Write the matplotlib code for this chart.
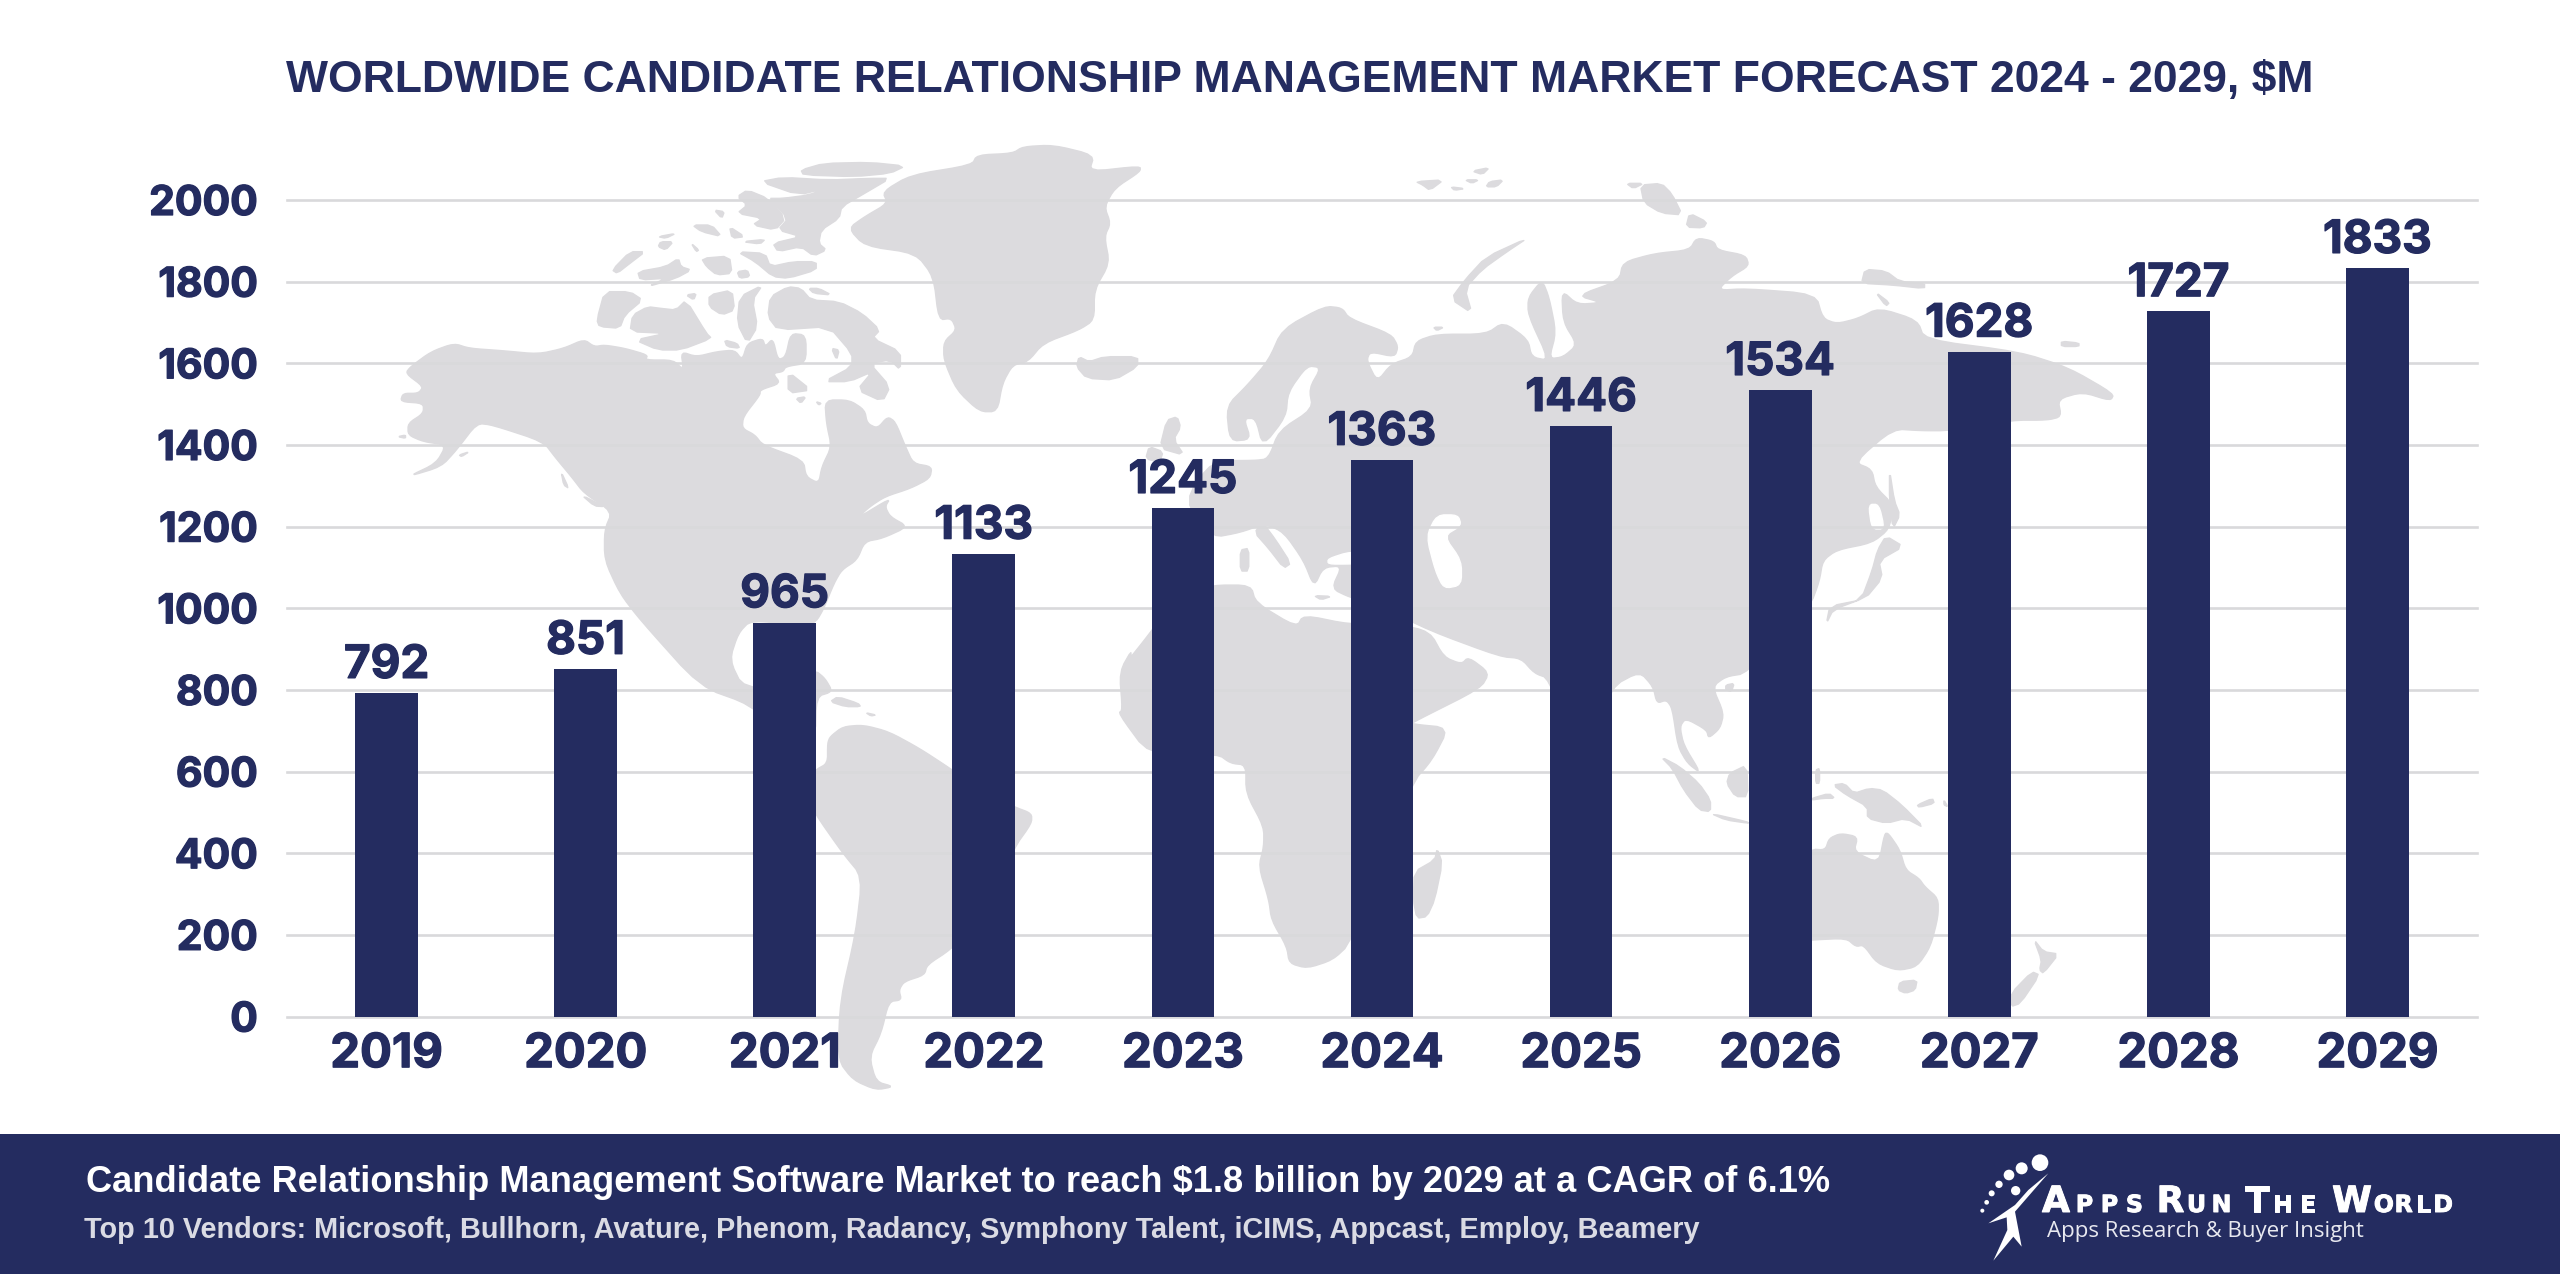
import matplotlib
matplotlib.use("Agg")
import matplotlib.pyplot as plt
import matplotlib.patheffects as pe
from matplotlib.patches import Polygon, Circle, Rectangle

years = ["2019", "2020", "2021", "2022", "2023", "2024", "2025", "2026", "2027", "2028", "2029"]
market = [792, 851, 965, 1133, 1245, 1363, 1446, 1534, 1628, 1727, 1833]
y_ticks = [0, 200, 400, 600, 800, 1000, 1200, 1400, 1600, 1800, 2000]

title = "WORLDWIDE CANDIDATE RELATIONSHIP MANAGEMENT MARKET FORECAST 2024 - 2029, $M"
headline = "Candidate Relationship Management Software Market to reach $1.8 billion by 2029 at a CAGR of 6.1%"
vendors = "Top 10 Vendors: Microsoft, Bullhorn, Avature, Phenom, Radancy, Symphony Talent, iCIMS, Appcast, Employ, Beamery"

NAVY = "#242C60"
LAND = "#DCDBDE"
GRID = "#D9D9DB"
W, H = 2560, 1274
NUM_FONT = ["Inter", "DejaVu Sans"]
TEXT_FONT = ["Liberation Sans"]
HEAVY = [pe.withStroke(linewidth=0.9, foreground=NAVY)]


def crop_a(pts):
    return [(380 + x / 1.96, 130 + y / 3) for x, y in pts]

def crop_b(pts):
    return [(1100 + x / 1.425, 150 + y / 2.85) for x, y in pts]

def crop_c(pts):
    return [(700 + x / 1.96, 600 + y / 3) for x, y in pts]

def crop_d(pts):
    return [(1500 + x / 2.613, 650 + y / 3) for x, y in pts]


# corner cutting, only to take the hard edges off the traced coastlines
def soften(pts, rounds=2):
    for _ in range(rounds):
        out = []
        for i, p in enumerate(pts):
            q = pts[(i + 1) % len(pts)]
            out.append((0.8 * p[0] + 0.2 * q[0], 0.8 * p[1] + 0.2 * q[1]))
            out.append((0.2 * p[0] + 0.8 * q[0], 0.2 * p[1] + 0.8 * q[1]))
        pts = out
    return pts


north_america = crop_a([
    (60, 710), (100, 665), (145, 640), (175, 655), (240, 662), (310, 672), (360, 655), (400, 628), (420, 650),
    (440, 645), (480, 655), (525, 675), (520, 690), (575, 690), (595, 720), (590, 665), (620, 680), (660, 665),
    (695, 660), (710, 690), (720, 640), (750, 625), (755, 650), (770, 625), (780, 690), (795, 680), (805, 610),
    (835, 615), (835, 700), (795, 710), (790, 725), (770, 730), (785, 760), (745, 780), (745, 795), (712, 860),
    (710, 895), (735, 915), (750, 945), (830, 990), (835, 1040), (860, 1060), (866, 1010), (885, 950), (875, 880),
    (872, 810), (920, 810), (950, 840), (955, 880), (975, 895), (995, 860), (1010, 875), (1030, 950), (1045, 1000),
    (1082, 1010), (1078, 1045), (1040, 1075), (990, 1100), (960, 1130), (935, 1165), (1000, 1105), (990, 1130),
    (1000, 1160), (1035, 1190), (985, 1225), (950, 1235), (935, 1290), (905, 1320), (890, 1360), (870, 1435),
    (855, 1475), (830, 1490),
]) + crop_c([
    (100, 60), (75, 100), (58, 180), (85, 265), (225, 270), (225, 210), (245, 235), (260, 275), (228, 290), (226, 420),
    (150, 400), (100, 315), (0, 260),
]) + crop_a([
    (510, 1470), (470, 1390), (440, 1290), (440, 1200), (455, 1145), (400, 1090), (375, 1040), (345, 985), (320, 935),
    (220, 885), (190, 880), (150, 960), (120, 1010), (55, 1040), (110, 1000), (130, 945), (85, 935), (55, 915),
    (55, 880), (85, 850), (85, 820), (40, 815), (45, 790), (75, 790), (85, 770), (50, 730),
])

south_america = crop_c([
    (255, 410), (280, 380), (320, 375), (370, 395), (430, 445), (490, 505), (550, 570), (615, 620), (650, 640),
    (650, 670), (615, 745), (560, 950), (490, 1050), (445, 1095), (440, 1125), (400, 1145), (390, 1170), (395, 1200),
    (370, 1205), (355, 1300), (332, 1370), (345, 1445), (380, 1460), (345, 1470), (300, 1440), (270, 1380), (275, 1200),
    (305, 1000), (318, 830), (280, 760), (225, 640), (200, 560), (226, 510), (250, 490), (250, 430),
])

africa = crop_b([
    (30, 1560), (30, 1480), (70, 1380), (110, 1270), (160, 1240), (215, 1240), (222, 1290), (280, 1360), (290, 1325),
    (356, 1352), (420, 1350), (470, 1372), (490, 1445), (515, 1465), (525, 1445), (555, 1490),
]) + crop_c([
    (1530, 265), (1400, 365), (1395, 372), (1468, 383), (1435, 480), (1395, 550), (1275, 1030), (1240, 1080),
    (1190, 1105), (1155, 1090), (1150, 1040), (1120, 960), (1115, 900), (1095, 800), (1105, 740), (1105, 680),
    (1070, 580), (1070, 495), (1040, 490), (1015, 462), (880, 465), (820, 340), (828, 330), (822, 215), (850, 140),
])

eurasia = crop_b([
    (320, 445), (345, 450), (355, 480), (415, 525), (425, 560), (420, 590), (385, 575), (380, 600), (395, 660),
    (415, 610), (445, 590), (450, 545), (480, 525), (550, 525), (575, 490), (610, 540), (615, 590), (640, 600),
    (610, 470), (610, 420), (630, 370), (640, 420), (650, 520), (640, 595), (660, 590), (680, 555), (660, 490),
    (658, 400), (680, 440), (715, 435), (680, 415), (740, 372), (745, 320), (790, 295), (840, 285), (850, 250),
    (875, 260), (880, 285), (920, 300), (925, 330), (900, 360), (880, 400), (920, 395), (1020, 410), (1030, 480),
    (1050, 495), (1080, 480), (1110, 450), (1165, 485), (1175, 540), (1310, 575), (1380, 620), (1445, 695),
    (1440, 715), (1400, 690), (1365, 710), (1370, 760), (1350, 770), (1300, 770), (1210, 800), (1170, 800), (1130, 795),
    (1075, 890), (1100, 910), (1105, 960), (1130, 1010), (1125, 1080), (1100, 1120), (1050, 1140), (1030, 1170),
    (1025, 1230), (1012, 1300),
]) + crop_d([
    (645, 70), (590, 80), (555, 110), (585, 190), (575, 235), (545, 265), (540, 240), (485, 205), (470, 230), (480, 285),
    (525, 370), (490, 340), (465, 290), (450, 175), (435, 150), (410, 160), (400, 110), (365, 65), (292, 110),
    (210, 330), (127, 85), (90, 70), (55, 25), (0, 20),
]) + crop_b([
    (470, 1370), (400, 1300), (356, 1275), (330, 1250), (345, 1185), (318, 1190), (305, 1245), (290, 1170), (262, 1090),
    (235, 1065), (200, 1090), (160, 1105), (120, 1000), (160, 885), (220, 885), (240, 880), (255, 800), (303, 738),
    (298, 680), (315, 620), (295, 615), (268, 690), (265, 760), (232, 845), (222, 765), (205, 765), (215, 825),
    (185, 830), (180, 730), (210, 670), (240, 600), (260, 510),
])

greenland = crop_a([
    (985, 185), (1040, 135), (1160, 105), (1170, 75), (1240, 70), (1260, 50), (1320, 45), (1400, 75), (1390, 125),
    (1490, 108), (1490, 125), (1440, 175), (1420, 230), (1432, 280), (1420, 320), (1430, 400), (1400, 480), (1400, 570),
    (1370, 600), (1300, 640), (1270, 695), (1240, 705), (1220, 760), (1210, 845), (1175, 845), (1130, 780), (1105, 690),
    (1105, 635), (1130, 600), (1120, 565), (1095, 570), (1085, 440), (1050, 370), (950, 348), (918, 295), (950, 260),
    (995, 220),
])

australia = crop_d([
    (700, 700), (812, 597), (850, 600), (860, 565), (890, 550), (935, 560), (925, 605), (990, 640), (1005, 550),
    (1015, 550), (1045, 600), (1060, 660), (1095, 685), (1110, 710), (1145, 745), (1145, 800), (1125, 890), (1090, 950),
    (1040, 962), (985, 940), (950, 885), (930, 890), (905, 865), (812, 870), (700, 880),
])

arctic_islands = [crop_a(p) for p in [
    [(825, 120), (870, 100), (960, 97), (1030, 108), (1000, 130), (930, 140), (830, 135)],
    [(745, 155), (790, 142), (880, 150), (960, 145), (1000, 145), (950, 190), (905, 230), (900, 265), (865, 300),
     (860, 340), (875, 360), (850, 378), (825, 350), (780, 365), (770, 340), (825, 320), (780, 300), (800, 265),
     (760, 205), (790, 205), (840, 195), (875, 175), (820, 195)],
    [(700, 200), (720, 180), (760, 205), (795, 265), (775, 300), (730, 285), (750, 265), (700, 250), (720, 225)],
    [(655, 240), (675, 245), (670, 265)],
    [(612, 285), (650, 285), (670, 320), (630, 305)],
    [(685, 290), (715, 320), (690, 325)],
    [(710, 335), (755, 328), (745, 342)],
    [(545, 320), (580, 310), (560, 325)],
    [(550, 335), (575, 335), (560, 360), (545, 350)],
    [(610, 340), (625, 360), (620, 365)],
    [(700, 365), (755, 370), (765, 410), (810, 395), (855, 395), (855, 420), (800, 445), (770, 440), (735, 395)],
    [(455, 420), (490, 365), (520, 365), (490, 400), (465, 430)],
    [(505, 425), (560, 410), (585, 385), (590, 410), (610, 420), (580, 445), (525, 470), (560, 445), (510, 450)],
    [(630, 385), (685, 378), (690, 430), (660, 435), (640, 410)],
    [(700, 425), (720, 420), (725, 440), (705, 445)],
    [(440, 485), (490, 485), (515, 510), (480, 555), (470, 595), (430, 590), (425, 570)],
    [(495, 555), (525, 530), (550, 535), (580, 540), (600, 510), (640, 610), (650, 625), (590, 660), (545, 660),
     (500, 630), (560, 610), (490, 605)],
    [(600, 495), (620, 490), (615, 510)],
    [(645, 495), (690, 480), (695, 540), (670, 555), (645, 530)],
    [(705, 500), (750, 465), (730, 510), (740, 590), (720, 640), (700, 580)],
    [(765, 500), (800, 470), (825, 475), (845, 510), (900, 515), (945, 550), (980, 600), (965, 625), (1020, 665),
     (1020, 720), (1000, 690), (960, 700), (1000, 770), (985, 815), (935, 780), (965, 725), (920, 755), (870, 755),
     (925, 710), (925, 670), (880, 590), (780, 600), (760, 560)],
    [(840, 475), (860, 475), (885, 495), (850, 490)],
    [(885, 655), (900, 660), (895, 690)],
    [(800, 725), (845, 780), (800, 790)],
    [(815, 805), (835, 800), (825, 820)],
    [(855, 815), (865, 820), (860, 825)],
    [(675, 630), (700, 640), (705, 655), (680, 650)],
    [(35, 920), (50, 915), (50, 925)],
    [(155, 975), (175, 965), (160, 980)],
    [(355, 1025), (370, 1075), (360, 1065)],
    [(395, 1095), (440, 1130), (420, 1128)],
    [(1370, 680), (1390, 695), (1420, 680), (1485, 680), (1485, 710), (1440, 750), (1385, 745), (1365, 710)],
]]

old_world_islands = [crop_b(p) for p in [
    [(610, 250), (550, 305), (520, 370), (500, 425), (530, 465), (520, 395), (545, 340), (580, 290)],
    [(450, 90), (490, 85), (470, 115), (460, 100)],
    [(500, 105), (520, 110), (505, 115)],
    [(520, 85), (540, 85), (530, 95)],
    [(555, 90), (575, 85), (565, 105), (550, 105)],
    [(530, 60), (555, 50), (545, 70)],
    [(770, 100), (800, 95), (815, 125), (830, 185), (800, 180), (775, 150)],
    [(750, 95), (775, 95), (760, 110)],
    [(840, 180), (865, 205), (860, 222), (835, 220)],
    [(1090, 340), (1120, 345), (1140, 375), (1175, 380), (1175, 395), (1130, 385), (1085, 380)],
    [(1105, 405), (1125, 435), (1120, 445)],
    [(1370, 545), (1395, 550), (1395, 560), (1370, 560)],
    [(475, 505), (490, 505), (480, 515)],
    [(95, 770), (110, 760), (115, 790), (105, 825), (120, 870), (85, 850)],
    [(70, 845), (90, 860), (85, 890), (65, 880)],
    [(232, 1062), (250, 1110), (272, 1178), (262, 1192), (240, 1135), (220, 1090)],
    [(200, 1140), (212, 1135), (212, 1200), (200, 1200)],
    [(305, 1270), (330, 1272), (315, 1282)],
    [(1125, 910), (1132, 1000), (1140, 1040), (1130, 1080), (1125, 1000)],
    [(1120, 1100), (1145, 1130), (1110, 1170), (1115, 1220), (1090, 1280), (1040, 1300), (1035, 1350), (1045, 1310),
     (1085, 1280), (1100, 1200), (1108, 1140)],
]] + [crop_d(p) for p in [
    [(420, 320), (470, 350), (520, 400), (550, 450), (550, 485), (520, 480), (480, 420), (450, 355)],
    [(550, 490), (645, 515), (650, 520), (590, 510)],
    [(645, 345), (600, 370), (592, 400), (615, 440), (648, 440)],
    [(815, 445), (860, 430), (875, 445), (845, 445), (815, 450)],
    [(825, 360), (835, 355), (835, 400), (825, 400)],
    [(870, 405), (900, 400), (925, 430), (965, 415), (1000, 420), (1050, 465), (1110, 535), (1060, 505), (1010, 520),
     (960, 505), (960, 470), (905, 435)],
    [(1090, 465), (1130, 445), (1135, 460), (1095, 472)],
    [(1160, 450), (1170, 470), (1160, 465)],
    [(590, 105), (612, 100), (605, 125), (590, 120)],
    [(1045, 995), (1090, 990), (1085, 1020), (1060, 1030), (1040, 1020)],
    [(1395, 868), (1420, 905), (1460, 912), (1420, 970), (1410, 960), (1415, 930)],
    [(1390, 965), (1410, 975), (1360, 1060), (1335, 1070), (1335, 1030)],
]] + [crop_c(p) for p in [
    [(1445, 745), (1455, 790), (1440, 900), (1425, 950), (1405, 955), (1398, 900), (1400, 815), (1440, 780)],
    [(255, 305), (270, 290), (310, 310), (315, 320), (285, 320)],
    [(325, 338), (345, 345), (335, 348)],
]]

# inland seas are painted back in white on top of the land
inland_seas = [crop_b(p) for p in [
    [(480, 1040), (510, 1040), (515, 1070), (490, 1100), (515, 1170), (515, 1240), (490, 1250), (478, 1200), (465, 1100)],
    [(325, 1165), (356, 1145), (420, 1145), (420, 1175), (356, 1180), (325, 1180)],
    [(1095, 1010), (1110, 1010), (1118, 1080), (1100, 1080)],
]]

fig = plt.figure(figsize=(W / 100, H / 100), dpi=100, facecolor="white")

bg = fig.add_axes([0, 0, 1, 1], zorder=0)
bg.set_xlim(0, W)
bg.set_ylim(H, 0)
bg.axis("off")

for shape in [north_america, south_america, africa, eurasia, greenland, australia]:
    bg.add_patch(Polygon(soften(shape), closed=True, facecolor=LAND, edgecolor=LAND, lw=1, joinstyle="round"))
for shape in arctic_islands + old_world_islands:
    bg.add_patch(Polygon(soften(shape, 1), closed=True, facecolor=LAND, edgecolor=LAND, lw=1, joinstyle="round"))
for shape in inland_seas:
    bg.add_patch(Polygon(soften(shape), closed=True, facecolor="white", edgecolor="white", lw=1, joinstyle="round"))

# footer banner
bg.add_patch(Rectangle((0, 1134), W, H - 1134, facecolor=NAVY, edgecolor="none"))
bg.text(86, 1183, headline, color="white", fontsize=26.1, family=TEXT_FONT, fontweight="bold", va="center", ha="left")
bg.text(84, 1230, vendors, color="#DADBE4", fontsize=20.8, family=TEXT_FONT, fontweight="bold", va="center", ha="left")

# main chart
ax = fig.add_axes([287 / W, 1 - 1016.5 / H, 2190 / W, 816.5 / H], zorder=1)
ax.patch.set_visible(False)
x = range(len(years))
ax.bar(x, market, width=0.315, color=NAVY, zorder=3)
ax.set_xlim(-0.5, 10.5)
ax.set_ylim(0, 2000)
ax.set_yticks(y_ticks)
ylabels = ax.set_yticklabels([str(v) for v in y_ticks], family=NUM_FONT, fontweight="bold", fontsize=29.5, color=NAVY)
ax.set_xticks(list(x))
xlabels = ax.set_xticklabels(years, family=NUM_FONT, fontweight="bold", fontsize=34, color=NAVY)
for lab in list(ylabels) + list(xlabels):
    lab.set_path_effects(HEAVY)
ax.tick_params(axis="y", length=0, pad=21)
ax.tick_params(axis="x", length=0, pad=12)
ax.grid(axis="y", color=GRID, lw=1.9, zorder=1, clip_on=False)
ax.set_axisbelow(True)
for side in ax.spines:
    ax.spines[side].set_visible(False)

for i, v in enumerate(market):
    ax.annotate(str(v), (i, v), xytext=(0, 11), textcoords="offset points", ha="center", va="baseline",
                family=NUM_FONT, fontweight="bold", fontsize=33, color=NAVY, zorder=4, path_effects=HEAVY)

fig.text(286 / W, 1 - 92 / H, title, color=NAVY, fontsize=32, family=TEXT_FONT, fontweight="bold", va="baseline", ha="left")


# logo, letters spread out by hand because no installed font is that wide
def spaced(text, x0, x1, size):
    step = (x1 - x0) / len(text)
    for k, ch in enumerate(text):
        bg.text(x0 + step * (k + 0.5), 1212, ch, color="white", fontsize=size, family="DejaVu Sans",
                fontweight="bold", ha="center", va="baseline",
                path_effects=[pe.withStroke(linewidth=0.7, foreground="white")])


for word, a, b, big in [("A", 2040, 2072, True), ("PPS", 2072, 2147, False), ("R", 2157, 2184, True),
                        ("UN", 2184, 2234, False), ("T", 2244, 2270, True), ("HE", 2270, 2320, False),
                        ("W", 2330, 2374, True), ("ORLD", 2374, 2453, False)]:
    spaced(word, a, b, 26 if big else 17)
bg.text(2047, 1232, "Apps Research & Buyer Insight", color="#E8E9F0", fontsize=16, family="Open Sans",
        va="center", ha="left")

for cx, cy, r in [(270, 68, 25), (215, 85, 18), (177, 105, 16), (147, 133, 11), (125, 160, 9), (110, 187, 7),
                  (97, 212, 6), (197, 152, 14)]:
    bg.add_patch(Circle((1950 + cx / 3, 1140 + cy / 3), r / 3, facecolor="white", edgecolor="none"))
runner = [(1950 + a / 3, 1140 + b / 3) for a, b in [(295, 100), (235, 150), (195, 195), (115, 250), (170, 232),
                                                     (172, 270), (130, 362), (190, 290), (215, 320), (195, 215)]]
bg.add_patch(Polygon(runner, closed=True, facecolor="white", edgecolor="none"))

fig.savefig("out.png", dpi=100)
